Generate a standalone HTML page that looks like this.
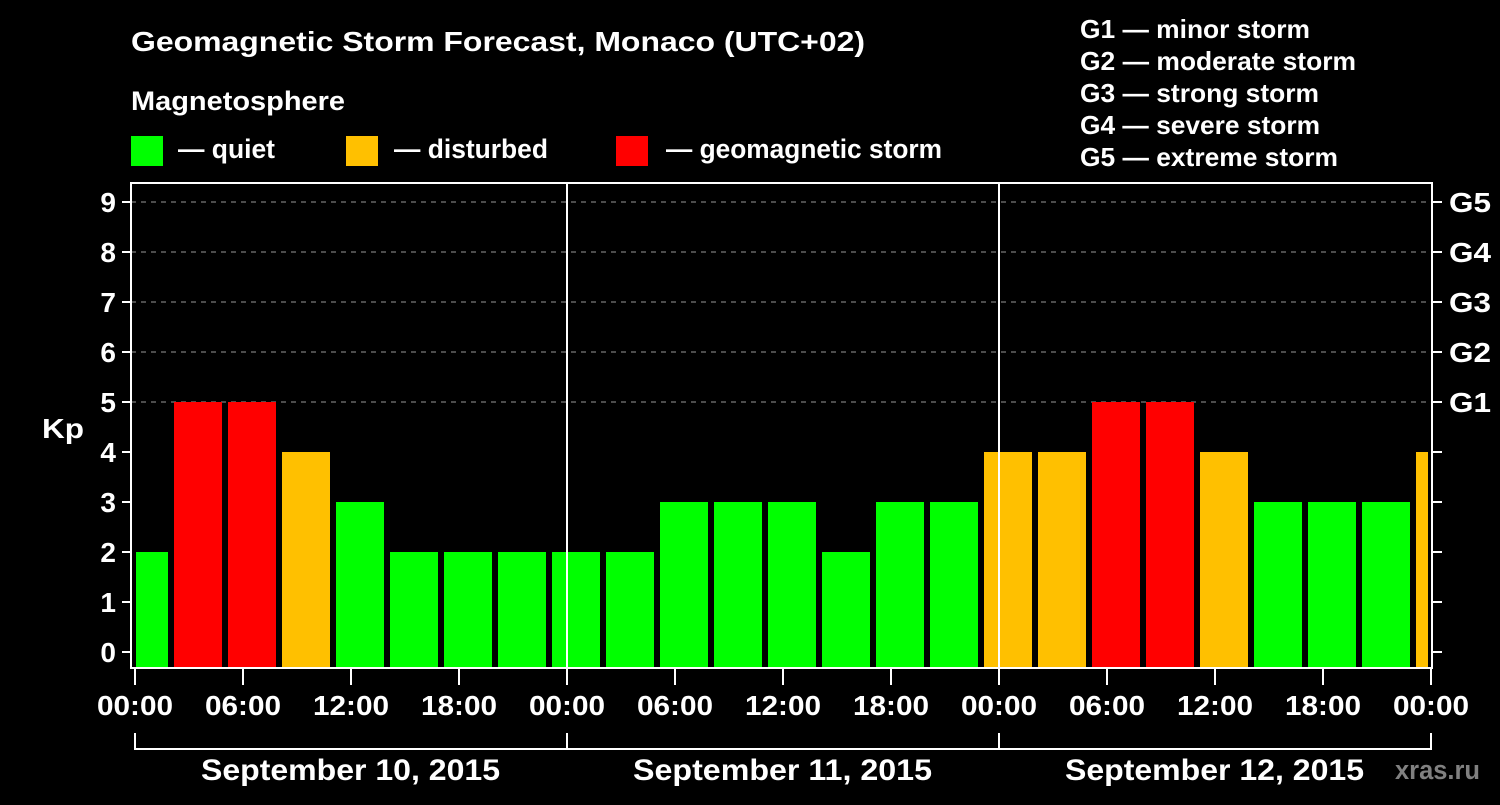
<!DOCTYPE html>
<html><head><meta charset="utf-8"><style>
body{margin:0;background:#000;}
svg text{font-family:"Liberation Sans",Arial,sans-serif;font-weight:bold;fill:#fff;}
</style></head><body>
<svg width="1500" height="800" xmlns="http://www.w3.org/2000/svg">
<rect width="1500" height="800" fill="#000"/>
<text x="131" y="51" font-size="28" textLength="734" lengthAdjust="spacingAndGlyphs">Geomagnetic Storm Forecast, Monaco (UTC+02)</text>
<text x="131" y="110" font-size="27" textLength="214" lengthAdjust="spacingAndGlyphs">Magnetosphere</text>
<g><rect x="131" y="136" width="32" height="30" fill="#00ff00"/><text x="178" y="158" font-size="27" textLength="97" lengthAdjust="spacingAndGlyphs">— quiet</text></g>
<g><rect x="346" y="136" width="32" height="30" fill="#ffc000"/><text x="394" y="158" font-size="27" textLength="154" lengthAdjust="spacingAndGlyphs">— disturbed</text></g>
<g><rect x="616" y="136" width="32" height="30" fill="#ff0000"/><text x="666" y="158" font-size="27" textLength="276" lengthAdjust="spacingAndGlyphs">— geomagnetic storm</text></g>
<g font-size="26">
<text x="1080" y="38" textLength="230" lengthAdjust="spacingAndGlyphs">G1 — minor storm</text>
<text x="1080" y="70" textLength="276" lengthAdjust="spacingAndGlyphs">G2 — moderate storm</text>
<text x="1080" y="102" textLength="239" lengthAdjust="spacingAndGlyphs">G3 — strong storm</text>
<text x="1080" y="134" textLength="240" lengthAdjust="spacingAndGlyphs">G4 — severe storm</text>
<text x="1080" y="166" textLength="258" lengthAdjust="spacingAndGlyphs">G5 — extreme storm</text>
</g>
<text x="42" y="438" font-size="28" textLength="42" lengthAdjust="spacingAndGlyphs">Kp</text>
<text x="1395" y="779" font-size="27" textLength="85" lengthAdjust="spacingAndGlyphs" style="fill:#808080">xras.ru</text>
<g id="plot"></g>
</svg>
<script>
const kpValues=[2,5,5,4,3,2,2,2,2,2,3,3,3,2,3,3,4,4,5,5,4,3,3,3,4];
const barCenterHours=[0.5,3.5,6.5,9.5,12.5,15.5,18.5,21.5,24.5,27.5,30.5,33.5,36.5,39.5,42.5,45.5,48.5,51.5,54.5,57.5,60.5,63.5,66.5,69.5,72.5];
const yTicks=[0,1,2,3,4,5,6,7,8,9];
const gLabels=["G1","G2","G3","G4","G5"];
const xTickLabels=["00:00","06:00","12:00","18:00","00:00","06:00","12:00","18:00","00:00","06:00","12:00","18:00","00:00"];
const dayLabels=["September 10, 2015","September 11, 2015","September 12, 2015"];
const NS="http://www.w3.org/2000/svg";
const X=h=>135+h*18, Y=v=>652-v*50;
const g=document.getElementById('plot');
function mk(t,a,p){const e=document.createElementNS(NS,t);for(const k in a)e.setAttribute(k,a[k]);(p||g).appendChild(e);return e;}
const L=131,R=1432,T=183,B=668;
yTicks.forEach(v=>{if(v>=5){const l=mk('line',{x1:L,x2:R,y1:Y(v),y2:Y(v),stroke:'#999','stroke-dasharray':'5,5','stroke-width':1});

}});
kpValues.forEach((v,i)=>{let x0=X(barCenterHours[i])-24,x1=x0+48;x0=Math.max(x0,136);x1=Math.min(x1,1428);
const c=v>=5?'#ff0000':v>=4?'#ffc000':'#00ff00';
const r=mk('rect',{x:x0,y:Y(v),width:x1-x0,height:B-Y(v),fill:c});

});
const f=mk('rect',{x:L,y:T,width:R-L,height:B-T,fill:'none',stroke:'#fff','stroke-width':2});


[24,48].forEach(h=>{const l=mk('line',{x1:X(h),x2:X(h),y1:T,y2:B,stroke:'#fff','stroke-width':2});

});
yTicks.forEach(v=>{mk('line',{x1:122,x2:L,y1:Y(v),y2:Y(v),stroke:'#fff','stroke-width':2});
mk('line',{x1:R,x2:1442,y1:Y(v),y2:Y(v),stroke:'#fff','stroke-width':2});
const t=mk('text',{x:116,y:Y(v)+10,'font-size':28,'text-anchor':'end'});t.textContent=v;

});
gLabels.forEach((s,i)=>{const t=mk('text',{x:1449,y:Y(5+i)+10,'font-size':28,textLength:42,lengthAdjust:'spacingAndGlyphs'});t.textContent=s;

});
xTickLabels.forEach((s,i)=>{const x=X(i*6);mk('line',{x1:x,x2:x,y1:B,y2:685,stroke:'#fff','stroke-width':2});
const t=mk('text',{x:x-38,y:715,'font-size':28,textLength:76,lengthAdjust:'spacingAndGlyphs'});t.textContent=s;

});
mk('line',{x1:X(0),x2:X(72),y1:749,y2:749,stroke:'#fff','stroke-width':2});
[0,24,48,72].forEach(h=>mk('line',{x1:X(h),x2:X(h),y1:733,y2:750,stroke:'#fff','stroke-width':2}));
dayLabels.forEach((s,i)=>{const t=mk('text',{x:X(i*24+12)-150,y:780,'font-size':30,textLength:299,lengthAdjust:'spacingAndGlyphs'});t.textContent=s;

});
</script>
</body></html>
